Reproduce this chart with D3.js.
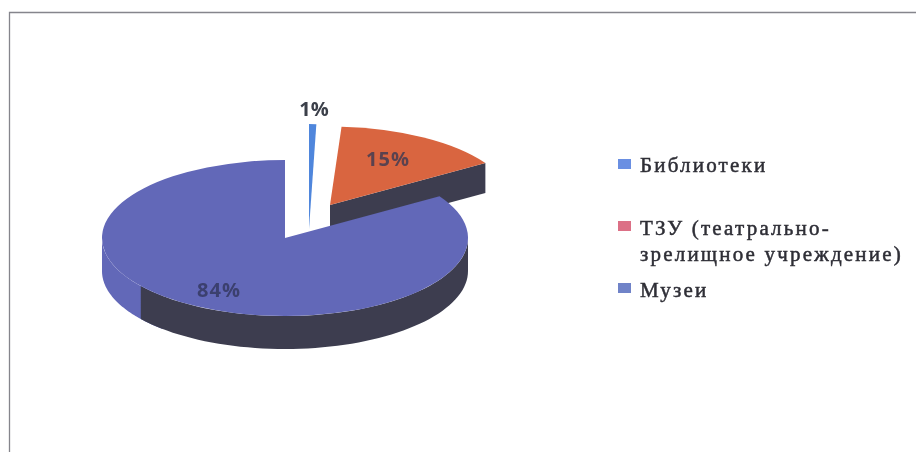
<!DOCTYPE html>
<html><head><meta charset="utf-8">
<script src="https://cdn.jsdelivr.net/npm/d3@7"></script>
<style>html,body{margin:0;padding:0;background:#fff}svg{display:block}</style>
</head><body><svg id="c" width="916" height="452"></svg>
<script>
const categories = ["Библиотеки", "ТЗУ (театрально-|зрелищное учреждение)", "Музеи"];
const values = [1, 15, 84];
const valueLabels = ["1%", "15%", "84%"];
const faceColors = ["#4f86dc", "#d9653f", "#6267b8"];
const legendColors = ["#6b8fe2", "#dc6f86", "#7083c8"];

const svg = d3.select("#c");
const soft = svg.append("defs").append("filter").attr("id", "soft");
soft.append("feGaussianBlur").attr("stdDeviation", 0.6);
const root = svg.append("g").attr("filter", "url(#soft)");

// frame
root.append("path").attr("d", "M9.5,452V12.5H916").attr("fill", "none").attr("stroke", "#85858c").attr("stroke-width", 1.3);

const pie = d3.pie().sort(null).value(d => d)(values);
const wallColor = "#3d3e50";
const tilt = 78 / 183;
// geometry of each slice: apex, horizontal radius, vertical ratio, wall depth
const geom = [
  { cx: 309, cy: 229, r: 117, k: 105 / 117, depth: 0 },
  { cx: 330, cy: 205, r: 184, k: tilt, depth: 30 },
  { cx: 285, cy: 238, r: 183, k: tilt, depth: 33 }
];
const pt = (g, a) => [g.cx + g.r * Math.sin(a), g.cy - g.r * g.k * Math.cos(a)];
const arcGen = d3.arc().innerRadius(0);
const line = d3.line();
const sweep = (g, a0, a1, dy) => d3.range(0, 61).map(i => {
  const p = pt(g, a0 + (a1 - a0) * i / 60);
  return [p[0], p[1] + dy];
});
const deg = d => d * Math.PI / 180;

function face(i) {
  const g = geom[i], d = pie[i];
  root.append("path")
    .attr("transform", `translate(${g.cx},${g.cy}) scale(1,${g.k})`)
    .attr("d", arcGen({ innerRadius: 0, outerRadius: g.r, startAngle: d.startAngle, endAngle: d.endAngle }))
    .attr("fill", faceColors[i]);
}

// library sliver
face(0);

// theatre wedge: cut wall then face
{
  const g = geom[1], d = pie[1];
  const a = [g.cx, g.cy], b = pt(g, d.endAngle);
  root.append("path").attr("d", line([a, b, [b[0], b[1] + g.depth], [a[0], a[1] + g.depth]]) + "Z").attr("fill", wallColor);
  face(1);
}

// museum: outer wall then face
{
  const g = geom[2];
  const wall = (a0, a1, fill) => root.append("path")
    .attr("d", line(sweep(g, a0, a1, 0).concat(sweep(g, a1, a0, g.depth))) + "Z")
    .attr("fill", fill);
  wall(deg(222), deg(270), faceColors[2]);
  wall(deg(90), deg(232), wallColor);
  face(2);
}

// value labels
const labelPos = [[314, 116], [388, 166], [219, 297]];
root.selectAll("text.v").data(valueLabels).join("text").attr("class", "v")
  .attr("x", (d, i) => labelPos[i][0]).attr("y", (d, i) => labelPos[i][1])
  .attr("text-anchor", "middle")
  .attr("font-family", "'Open Sans','DejaVu Sans',sans-serif")
  .attr("font-weight", 700).attr("font-size", 20)
  .attr("letter-spacing", (d, i) => i === 0 ? 0 : 1)
  .attr("fill", (d, i) => i === 0 ? "#3b3f4a" : i === 1 ? "#5a4250" : "#3b3f6e")
  .text(d => d);

// legend
const legendY = [172, 235, 297];
const swatchY = [159, 221, 283];
const lg = root.selectAll("g.l").data(categories).join("g").attr("class", "l");
lg.append("rect").attr("x", 618).attr("y", (d, i) => swatchY[i]).attr("width", 13).attr("height", 10)
  .attr("fill", (d, i) => legendColors[i]);
lg.each(function (d, i) {
  d.split("|").forEach((t, j) => {
    d3.select(this).append("text")
      .attr("x", 640).attr("y", legendY[i] + j * 26)
      .attr("font-family", "'Liberation Serif',serif").attr("font-size", 21)
      .attr("letter-spacing", 2.2).attr("fill", "#2e2e36")
      .attr("stroke", "#2e2e36").attr("stroke-width", 0.5).text(t);
  });
});
</script></body></html>
